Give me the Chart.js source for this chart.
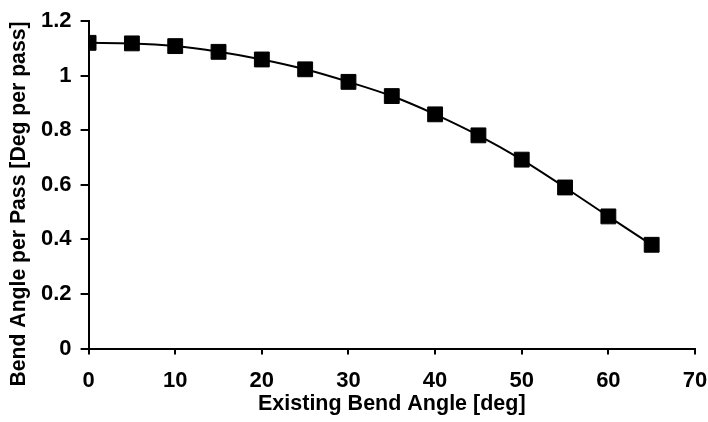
<!DOCTYPE html>
<html>
<head>
<meta charset="utf-8">
<script src="https://cdn.jsdelivr.net/npm/chart.js@4"></script>
<style>
  html, body { margin: 0; padding: 0; background: #fff; }
  #wrap { width: 708px; height: 422px; position: relative; }
</style>
</head>
<body>
<div id="wrap"><canvas id="bend-chart"></canvas></div>
<script>
const existingAngle = [0, 5, 10, 15, 20, 25, 30, 35, 40, 45, 50, 55, 60, 65];
const anglePerPass = [1.12, 1.118, 1.108, 1.087, 1.059, 1.023, 0.977, 0.925, 0.858, 0.781, 0.692, 0.59, 0.484, 0.38];
const xTitle = "Existing Bend Angle [deg]";
const yTitle = "Bend Angle per Pass [Deg per pass]";

const bendCanvas = document.getElementById("bend-chart");
const fontFamily = "'Liberation Sans', Arial, sans-serif";
const tickFont = { family: fontFamily, size: 22, weight: "bold", lineHeight: 1.0 };
const titleFont = { family: fontFamily, size: 21.5, weight: "bold", lineHeight: 1.0 };

function formatTick(value) {
  return Number(value.toFixed(1)).toString();
}

// y title drawn by hand so it can sit a bit lower than the plot centre, like the original
const yTitlePlugin = {
  id: "yTitle",
  afterDraw(chart) {
    const { ctx } = chart;
    ctx.save();
    ctx.translate(19, 204);
    ctx.rotate(-Math.PI / 2);
    ctx.font = "bold 21.2px " + fontFamily;
    ctx.fillStyle = "#000";
    ctx.textAlign = "center";
    ctx.textBaseline = "middle";
    ctx.fillText(yTitle, 0, 0);
    ctx.restore();
  },
};

new Chart(bendCanvas, {
  type: "line",
  data: {
    datasets: [
      {
        data: existingAngle.map((angle, i) => ({ x: angle, y: anglePerPass[i] })),
        borderColor: "#000",
        borderWidth: 2,
        backgroundColor: "#000",
        pointStyle: "rect",
        pointRadius: 10.5,
        pointBorderWidth: 1,
        cubicInterpolationMode: "monotone",
      },
    ],
  },
  options: {
    responsive: true,
    maintainAspectRatio: false,
    animation: false,
    layout: { padding: { top: 21, right: 0, left: 32, bottom: 7 } },
    plugins: { legend: { display: false }, tooltip: { enabled: false } },
    scales: {
      x: {
        type: "linear",
        min: 0,
        max: 70,
        afterFit(scale) {
          scale.paddingRight = 13;
        },
        ticks: { stepSize: 10, color: "#000", font: tickFont, padding: 15 },
        grid: { drawOnChartArea: false, tickLength: 6, color: "#000", lineWidth: 2 },
        border: { color: "#000", width: 2 },
        title: { display: true, text: xTitle, color: "#000", font: titleFont, padding: { top: -13, bottom: 0 } },
      },
      y: {
        min: 0,
        max: 1.2,
        ticks: { stepSize: 0.2, color: "#000", font: tickFont, padding: 9, callback: formatTick },
        grid: { drawOnChartArea: false, tickLength: 8, color: "#000", lineWidth: 2 },
        border: { color: "#000", width: 2 },
      },
    },
  },
  plugins: [yTitlePlugin],
});
</script>
</body>
</html>
